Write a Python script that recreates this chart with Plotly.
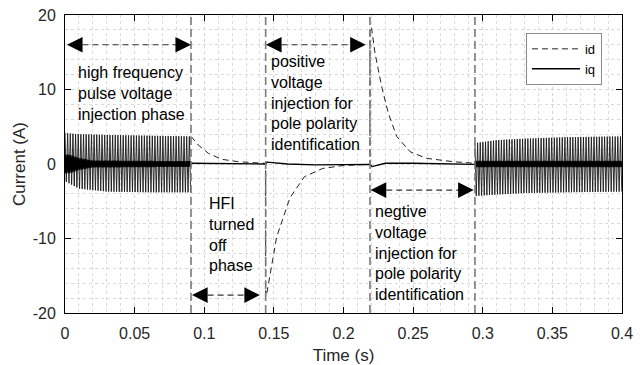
import numpy as np
import plotly.graph_objects as go

# ---------------- data ----------------
# Phase boundaries (s)
t_hfi_off = 0.0905     # HFI switched off
t_pos = 0.1441         # positive voltage injection starts
t_neg = 0.2190         # negative voltage injection starts
t_hfi_on = 0.2944      # HFI switched back on
t_end = 0.4

# HF injection: envelope of the id oscillation (first and last phases)
hf1_t = [0.0, 0.003, 0.01, 0.03, 0.06, 0.0905]
hf1_up = [4.2, 4.1, 4.0, 3.9, 3.8, 3.7]
hf1_lo = [-2.3, -2.6, -3.3, -3.7, -3.8, -3.8]
hf2_t = [0.2944, 0.31, 0.33, 0.36, 0.4]
hf2_up = [2.8, 3.2, 3.4, 3.6, 3.7]
hf2_lo = [-4.3, -4.1, -3.9, -3.8, -3.7]
# envelope of the iq ripple during HF injection
iqhf1_t = [0.0, 0.004, 0.01, 0.02, 0.0905]
iqhf1_amp = [1.3, 1.2, 0.8, 0.45, 0.35]
iqhf2_t = [0.2944, 0.4]
iqhf2_amp = [0.4, 0.4]
hf_half_period = 0.00095  # half period of the visible injection ripple (s)

# id after HFI is switched off (decays), then positive and negative pulses
id_t = [0.0905, 0.0957, 0.103, 0.1125, 0.1245, 0.141, 0.1441,
        0.1441, 0.1449, 0.152, 0.1616, 0.172, 0.185, 0.200, 0.219,
        0.219, 0.2202, 0.2226, 0.2274, 0.2322, 0.2382, 0.2478, 0.2597, 0.2787, 0.2944]
id_v = [3.7, 2.55, 1.43, 0.63, 0.31, 0.10, 0.08,
        -17.8, -17.4, -9.8, -4.5, -1.7, -0.6, -0.2, -0.05,
        18.4, 18.2, 14.9, 10.4, 6.8, 3.7, 1.65, 0.76, 0.31, 0.10]

iq_t = [0.0905, 0.100, 0.120, 0.1441, 0.1450, 0.160, 0.180, 0.200, 0.219,
        0.2205, 0.230, 0.250, 0.270, 0.2944]
iq_v = [0.10, 0.10, 0.05, 0.00, 0.25, 0.00, -0.13, -0.10, -0.05,
        -0.35, 0.10, 0.10, 0.00, -0.05]

x_ticks = [0, 0.05, 0.1, 0.15, 0.2, 0.25, 0.3, 0.35, 0.4]
x_ticktext = ["0", "0.05", "0.1", "0.15", "0.2", "0.25", "0.3", "0.35", "0.4"]
y_ticks = [-20, -10, 0, 10, 20]
y_ticktext = ["-20", "-10", "0", "10", "20"]


def ripple(t_knots, up, lo, t0, t1):
    ts = np.arange(t0, t1 + 1e-9, hf_half_period)
    u = np.interp(ts, t_knots, up)
    l = np.interp(ts, t_knots, lo)
    vals = np.where(np.arange(len(ts)) % 2 == 0, u, l)
    return ts, vals


FONT = "Liberation Sans, Arial, sans-serif"
fig = go.Figure()

# HF id ripple
for kt, ku, kl, a, b in [(hf1_t, hf1_up, hf1_lo, 0.0, t_hfi_off),
                         (hf2_t, hf2_up, hf2_lo, t_hfi_on, t_end)]:
    ts, vs = ripple(kt, ku, kl, a, b)
    fig.add_trace(go.Scatter(x=ts, y=vs, mode="lines", showlegend=False,
                             line=dict(color="#1a1a1a", width=0.9), hoverinfo="skip"))

# HF iq ripple
for kt, ka, a, b in [(iqhf1_t, iqhf1_amp, 0.0, t_hfi_off),
                     (iqhf2_t, iqhf2_amp, t_hfi_on, t_end)]:
    ts, vs = ripple(kt, ka, [-v for v in ka], a, b)
    fig.add_trace(go.Scatter(x=ts, y=vs, mode="lines", showlegend=False,
                             line=dict(color="#000000", width=2.2), hoverinfo="skip"))

fig.add_trace(go.Scatter(x=id_t, y=id_v, mode="lines", name="id",
                         line=dict(color="#222222", width=1, dash="6px,4px")))
fig.add_trace(go.Scatter(x=iq_t, y=iq_v, mode="lines", name="iq",
                         line=dict(color="#000000", width=1.3)))

shapes = []
# vertical grey dashed phase boundaries
for tb in [t_hfi_off, t_pos, t_neg, t_hfi_on]:
    shapes.append(dict(type="line", xref="x", yref="paper", x0=tb, x1=tb, y0=0, y1=1,
                       line=dict(color="#7a7a7a", width=1.6, dash="8px,4px"), layer="above"))

# double arrows: (x_left, x_right, y)
arrows = [(0.0014, 0.0905, 16.0),
          (0.1443, 0.2160, 16.0),
          (0.0912, 0.1400, -17.6),
          (0.2195, 0.2935, -3.5)]
annotations = []
for xl, xr, ya in arrows:
    shapes.append(dict(type="line", xref="x", yref="y", x0=xl + 0.004, x1=xr - 0.004, y0=ya, y1=ya,
                       line=dict(color="#333333", width=1.1, dash="6px,4px")))
    for tip, tail in [(xl, xl + 0.008), (xr, xr - 0.008)]:
        annotations.append(dict(x=tip, y=ya, ax=tail, ay=ya, xref="x", yref="y",
                                axref="x", ayref="y", text="", showarrow=True,
                                arrowhead=2, arrowsize=2.6, arrowwidth=1.2,
                                arrowcolor="#000000"))

texts = [("high frequency<br>pulse voltage<br>injection phase", 0.0078, 9.46),
         ("positive<br>voltage<br>injection for<br>pole polarity<br>identification", 0.1466, 8.21),
         ("HFI<br>turned<br>off<br>phase", 0.1021, -9.42),
         ("negtive<br>voltage<br>injection for<br>pole polarity<br>identification", 0.2213, -11.9)]
for txt, xt, yt in texts:
    annotations.append(dict(x=xt, y=yt, xref="x", yref="y", text=txt, showarrow=False,
                            xanchor="left", yanchor="middle", align="left",
                            font=dict(family=FONT, size=16, color="#000000")))

fig.update_layout(
    width=644, height=365,
    margin=dict(l=65, r=22, t=15, b=52, autoexpand=False),
    paper_bgcolor="white", plot_bgcolor="white",
    font=dict(family=FONT, size=16, color="#262626"),
    shapes=shapes, annotations=annotations,
    legend=dict(x=0.964, xanchor="right", y=0.94, yanchor="top",
                bgcolor="white", bordercolor="#8a8a8a", borderwidth=1,
                font=dict(family=FONT, size=13, color="#000000"),
                tracegroupgap=0, itemwidth=48),
    showlegend=True,
)

axis_common = dict(showline=True, linecolor="black", linewidth=1, mirror="allticks",
                   ticks="inside", ticklen=6, tickcolor="black", tickwidth=1,
                   showgrid=True, gridcolor="#d4d4d4", griddash="dot", gridwidth=1,
                   zeroline=False, automargin=False,
                   tickfont=dict(family=FONT, size=16, color="#262626"))

fig.update_xaxes(range=[0, 0.4], tickvals=x_ticks, ticktext=x_ticktext,
                 minor=dict(dtick=0.01, showgrid=True, gridcolor="#dadada", griddash="dot", ticks=""),
                 title=dict(text="Time (s)", font=dict(family=FONT, size=17, color="#262626"), standoff=12),
                 ticklabelstandoff=6, **axis_common)
fig.update_yaxes(range=[-20, 20], tickvals=y_ticks, ticktext=y_ticktext,
                 minor=dict(dtick=2, showgrid=True, gridcolor="#dadada", griddash="dot", ticks=""),
                 title=dict(text="Current (A)", font=dict(family=FONT, size=17, color="#262626"), standoff=2),
                 ticklabelstandoff=5, **axis_common)

fig.write_html("out.html")
